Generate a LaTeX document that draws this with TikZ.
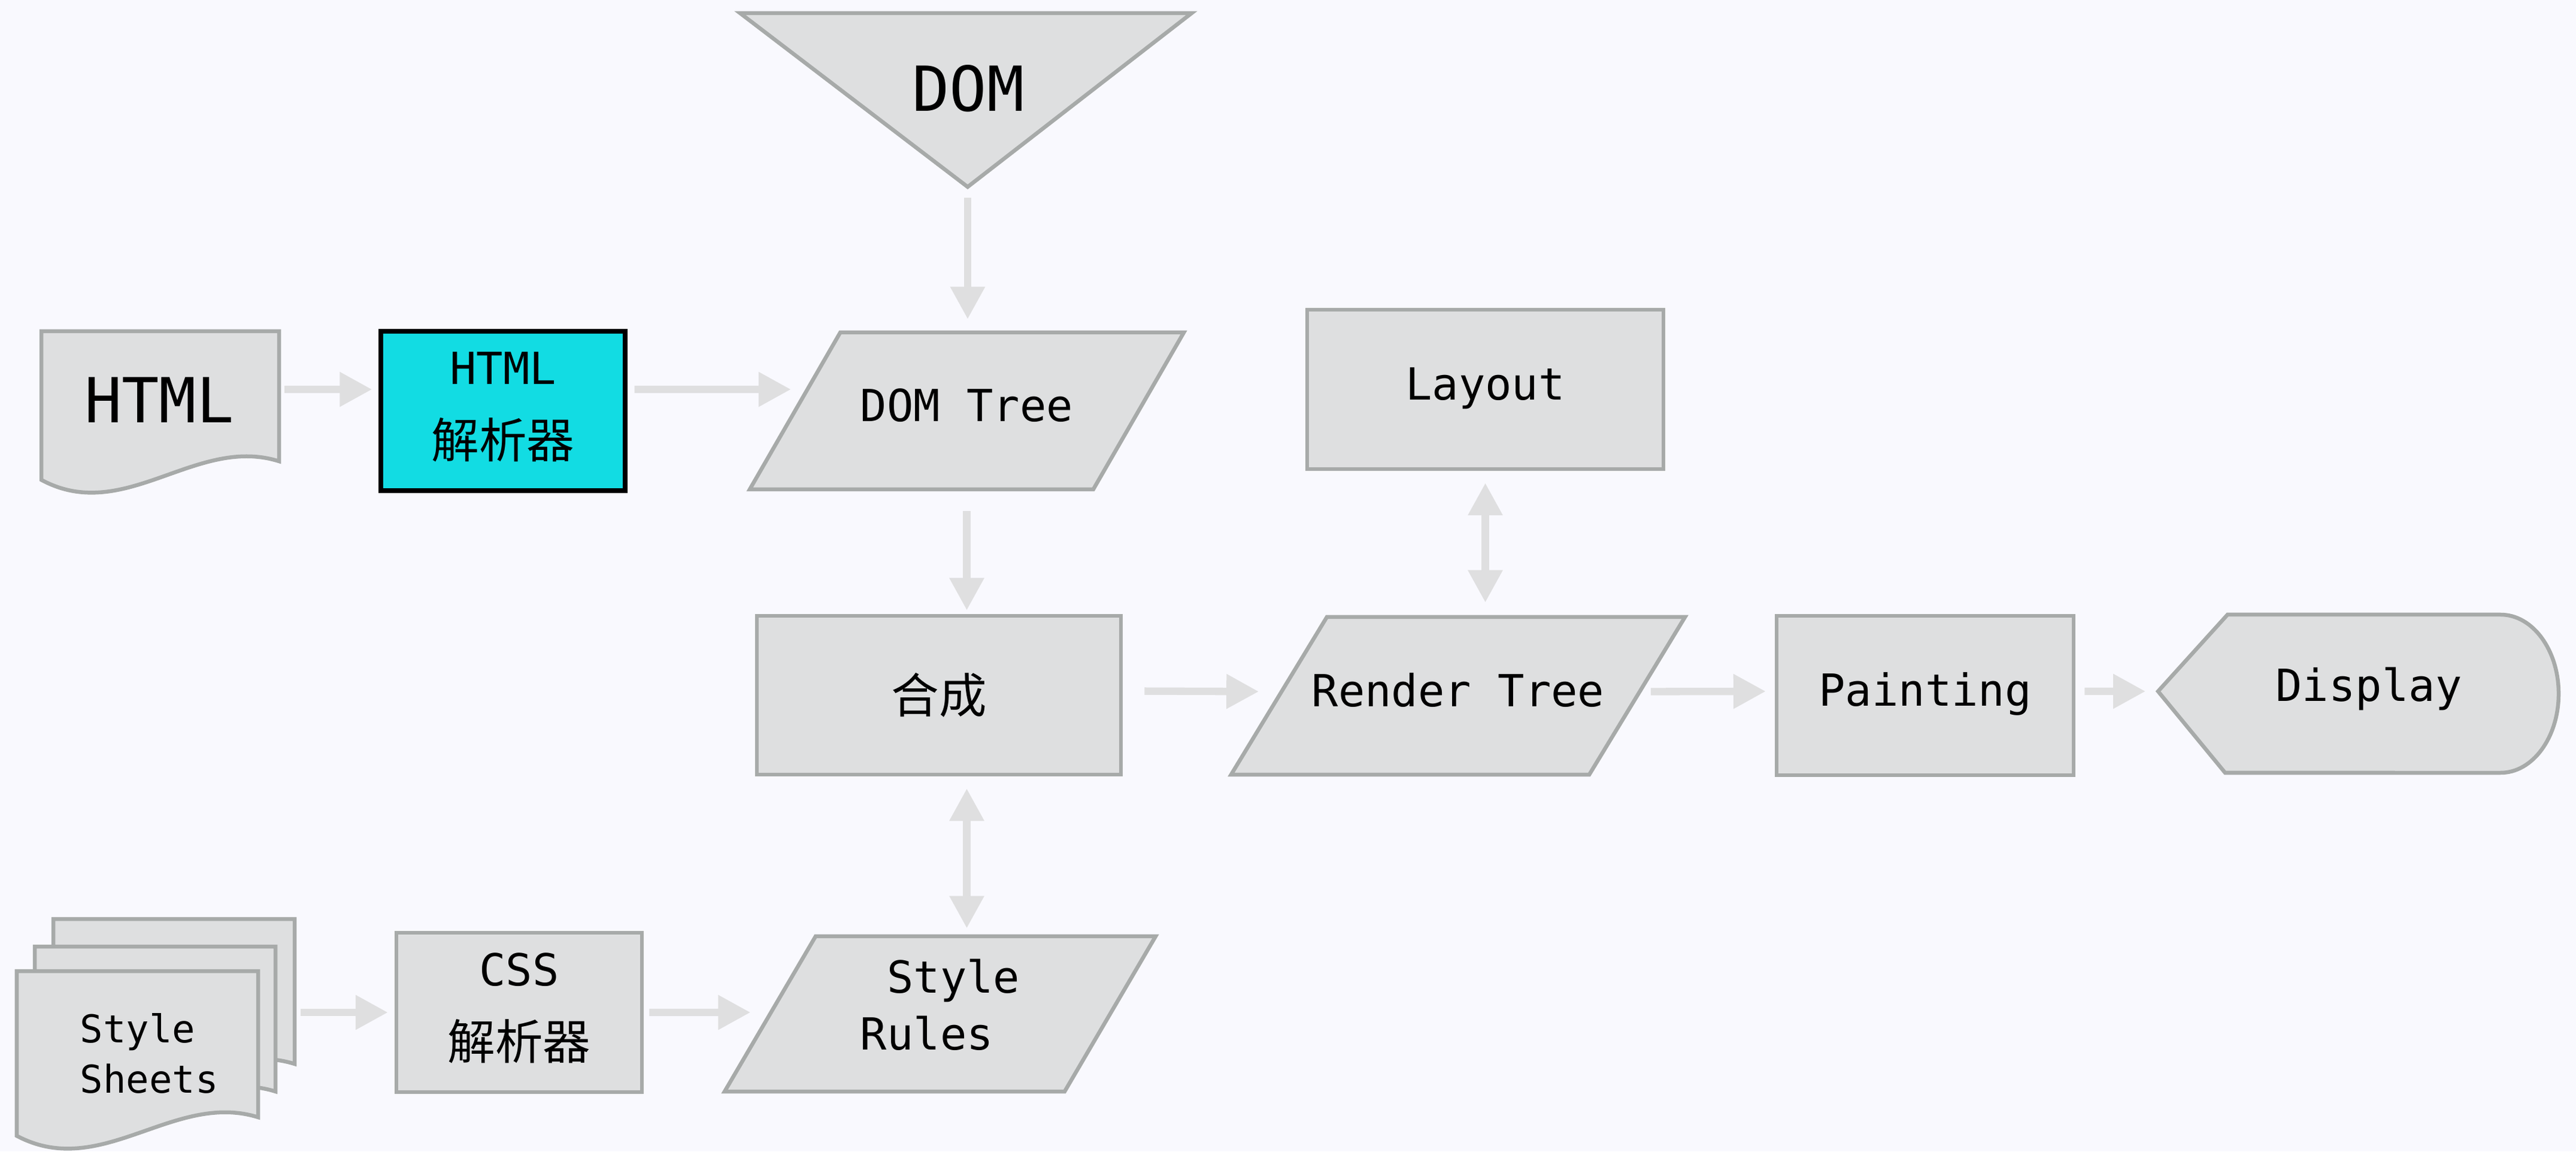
\documentclass[tikz,border=0pt]{standalone}
\usepackage{fontspec}
\setmonofont{DejaVu Sans Mono}
\newfontfamily\cjk[Scale=1.08]{Noto Sans CJK SC}
\usetikzlibrary{shapes.geometric,arrows.meta}
\definecolor{pagebg}{HTML}{F9F9FE}
\definecolor{boxfill}{HTML}{DEDFE0}
\definecolor{boxline}{HTML}{A7AAA9}
\definecolor{flowgray}{HTML}{DFDFE0}
\definecolor{parsercyan}{HTML}{12DCE3}
\newcommand{\webdoc}[4]{%
  \filldraw[shapebox] (#1,#2) -- ++(#3,0) -- ++(0,-#4)
    .. controls +({-0.35*#3},0.44) and +({0.35*#3},-0.75) .. ++({-#3},-0.31) -- cycle;}

\begin{document}
\begin{tikzpicture}[
  shapebox/.style={fill=boxfill, draw=boxline, line width=1.85pt},
  ttext/.style={font=\ttfamily\fontsize{21pt}{35pt}\selectfont},
  bigtext/.style={font=\ttfamily\fontsize{29.5pt}{35pt}\selectfont},
  onetext/.style={text height=0.6cm, text depth=0.24cm},
  rectbox/.style={shapebox, rectangle, inner sep=0pt, ttext},
  slantbox/.style={shapebox, trapezium, trapezium stretches body=true,
    trapezium left angle=60, trapezium right angle=120, inner xsep=0pt, ttext},
  flow/.style={draw=flowgray, line width=3.5pt, -{Triangle[length=5.4mm,width=5.5mm]}},
  flowboth/.style={flow, {Triangle[length=5.4mm,width=5.5mm]}-{Triangle[length=5.4mm,width=5.5mm]}}
]
\useasboundingbox (0,0) rectangle (43.02,19.22);
\fill[pagebg] (0,0) rectangle (43.02,19.22);

\filldraw[shapebox] (12.36,19.00) -- (19.90,19.00) -- (16.16,16.10) -- cycle;
\coordinate (domtip) at (16.16,16.10);
\node[bigtext] (dom) at (16.17,17.74) {DOM};

\webdoc{0.69}{13.69}{3.97}{2.17}
\node[bigtext] (html) at (2.66,12.54) {HTML};
\coordinate (hdocR) at (4.66,12.72);

\node[rectbox, fill=parsercyan, draw=black, line width=2.1pt, minimum width=4.08cm,
  minimum height=2.66cm, align=center] (hp) at (8.40,12.36) {HTML\\{\cjk 解析器}\rule[-0.2cm]{0pt}{0pt}};
\node[slantbox, minimum width=7.25cm, minimum height=2.62cm, inner ysep=0.89cm, onetext]
  (dt) at (16.145,12.36) {DOM Tree};
\node[rectbox, minimum width=5.95cm, minimum height=2.66cm, onetext] (lay) at (24.805,12.72) {Layout};

\node[rectbox, minimum width=6.08cm, minimum height=2.65cm] (hc) at (15.68,7.615) {{\cjk 合成}};
\node[slantbox, trapezium left angle=58.7, trapezium right angle=121.3, minimum width=7.58cm,
  minimum height=2.63cm, inner xsep=-0.3cm, inner ysep=0.895cm, onetext] (rt) at (24.35,7.605) {Render Tree};
\node[rectbox, minimum width=4.96cm, minimum height=2.66cm, onetext] (pt) at (32.15,7.61) {Painting};

\filldraw[shapebox] (36.04,7.68) -- (37.20,8.96) -- (41.76,8.96)
  arc[start angle=90, end angle=-90, x radius=0.97, y radius=1.32] -- (37.16,6.32) -- cycle;
\coordinate (disptip) at (36.04,7.68);
\node[ttext] (disp) at (39.56,7.72) {Display};

\webdoc{0.89}{3.88}{4.03}{2.42}
\webdoc{0.58}{3.42}{4.02}{2.42}
\webdoc{0.28}{3.01}{4.03}{2.44}
\node[font=\ttfamily\fontsize{18.2pt}{24.1pt}\selectfont, align=left, anchor=west,
  inner sep=0pt] (ss) at (1.33,1.635) {Style\\Sheets};
\coordinate (ssR) at (4.92,2.32);

\node[rectbox, minimum width=4.10cm, minimum height=2.66cm, align=center] (css) at (8.67,2.32) {CSS\\{\cjk 解析器}\rule[-0.2cm]{0pt}{0pt}};
\node[slantbox, trapezium left angle=59.6, trapezium right angle=120.4, minimum width=7.20cm,
  minimum height=2.59cm, inner ysep=0.38cm, align=left, font=\ttfamily\fontsize{21pt}{27pt}\selectfont]
  (sr) at (15.70,2.295) {\ Style\\Rules\rule[-0.32cm]{0pt}{0pt}};

\draw[flow, shorten <=0.9mm, shorten >=1.1mm] (hdocR) -- ([yshift=3.6mm]hp.west);
\draw[flow, shorten <=1.2mm, shorten >=0.3mm] ([yshift=3.6mm]hp.east) -- ([yshift=3.6mm]dt.west);
\draw[flow, shorten <=1.8mm, shorten >=1.9mm] (domtip) -- (domtip |- dt.north);
\draw[flow, shorten <=3.3mm, shorten >=0.6mm] (dt.south) -- (dt.south |- hc.north);
\draw[flowboth, shorten <=2mm, shorten >=1mm] (dt.south |- hc.south) -- (dt.south |- sr.north);
\draw[flow, shorten <=3.6mm, shorten >=3mm] ([yshift=0.7mm]hc.east) -- ([yshift=0.7mm]rt.west);
\draw[flow, shorten <=1.9mm, shorten >=1.5mm] ([yshift=0.7mm]rt.east) -- ([yshift=0.7mm]pt.west);
\draw[flow, shorten <=1.5mm, shorten >=2.1mm] ([yshift=0.7mm]pt.east) -- (disptip);
\draw[flowboth, shorten <=2mm, shorten >=2.1mm] (lay.south) -- (lay.south |- rt.north);
\draw[flow, shorten <=1mm, shorten >=1.1mm] (ssR) -- (css.west);
\draw[flow, shorten <=0.9mm, shorten >=2.9mm] (css.east) -- ([yshift=0.25mm]sr.west);
\end{tikzpicture}
\end{document}
